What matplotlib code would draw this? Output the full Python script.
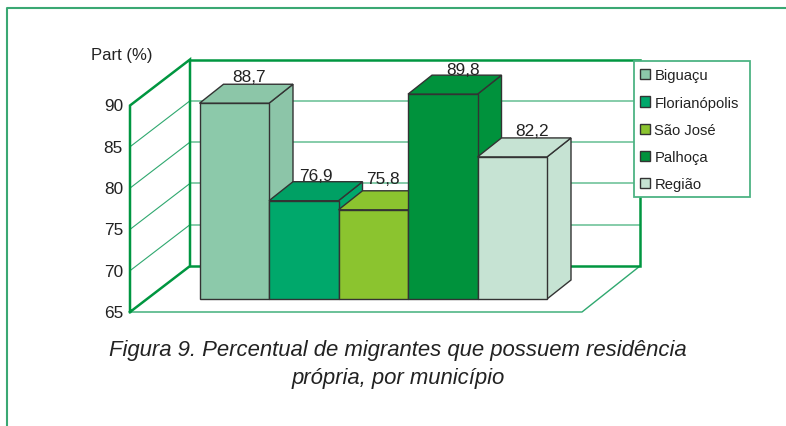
#!/usr/bin/env python3
# -*- coding: utf-8 -*-

import matplotlib
matplotlib.use("Agg")
import matplotlib.pyplot as plt
from matplotlib.patches import Patch, Polygon, Rectangle

municipios = ["Biguaçu", "Florianópolis", "São José", "Palhoça", "Região"]
valores = [88.7, 76.9, 75.8, 89.8, 82.2]
rotulos = ["88,7", "76,9", "75,8", "89,8", "82,2"]
ticks = [65, 70, 75, 80, 85, 90]

cor_frente = ["#8cc9aa", "#00a86b", "#8bc42f", "#00923c", "#c6e3d3"]
cor_topo = ["#8cc6a8", "#00a064", "#8bc42f", "#00923c", "#c6e3d3"]
cor_lado = ["#8cc5a8", "#00a86b", "#8bc42f", "#00923c", "#c6e3d3"]

# label nudges in pixels, the original labels are not centred on the bars
rotulo_dx = [-9, -12, -14, -4, -4]
rotulo_dy = [9, 8, 14, 7, 9]

W, H = 786, 427
PX_X = 69.5  # pixels per bar
PX_Y = 8.26  # pixels per percentage point
X0, Y0 = 199.5, 300  # pixel of first bar, value 65


def px(dx, dy=0):
    # pixel offset (y up) to data units
    return dx / PX_X, dy / PX_Y


fig = plt.figure(figsize=(W / 100, H / 100), dpi=100, facecolor="white")
ax = fig.add_axes([0, 0, 1, 1])
ax.set_xlim(-X0 / PX_X, (W - X0) / PX_X)
ax.set_ylim(65 - (H - Y0) / PX_Y, 65 + Y0 / PX_Y)
ax.axis("off")
plt.rcParams["font.family"] = ["Liberation Sans", "DejaVu Sans"]

VERDE = "#009640"
VERDE_CLARO = "#7cc8a3"
VERDE_FINO = "#2fa86f"
MOLDURA = "#3aa873"

# frame of the page, only top and left are visible
fx = px(7 - X0)[0]
fy = 65 + (Y0 - 9) / PX_Y
ax.plot([fx, fx, ax.get_xlim()[1]], [ax.get_ylim()[0], fy, fy], color=MOLDURA, lw=1.5, zorder=1)

# walls
xf = px(130 - X0)[0]
xb = px(190 - X0)[0]
xfr = px(582 - X0)[0]
xbr = px(640 - X0)[0]
queda = 13 / PX_Y
fundo = 33 / PX_Y


def frente(v):
    return v - queda


def tras(v):
    return v + fundo


for v in ticks[1:-1]:
    ax.plot([xb, xbr], [tras(v), tras(v)], color=VERDE_CLARO, lw=1.3, zorder=2)
    ax.plot([xf, xb], [frente(v), tras(v)], color=VERDE_FINO, lw=0.8, zorder=2)

ax.plot([xf, xfr, xbr], [frente(65), frente(65), tras(65)], color=VERDE_FINO, lw=1.0, zorder=2)
ax.plot([xf, xf, xb, xb, xf], [frente(65), frente(90), tras(90), tras(65), frente(65)],
        color=VERDE, lw=1.8, zorder=3, solid_joinstyle="miter")
ax.plot([xb, xbr, xbr, xb], [tras(90), tras(90), tras(65), tras(65)],
        color=VERDE, lw=1.8, zorder=3, solid_joinstyle="miter")

for v in ticks:
    ax.text(xf - px(7)[0], frente(v) + px(0, 1)[1], str(v), ha="right", va="center_baseline",
            fontsize=12.4, color="#222222")
ax.text(px(122 - X0)[0], 65 + (Y0 - 55) / PX_Y, "Part (%)", ha="center", va="center",
        fontsize=12.0, color="#222222")

# bars
ddx, ddy = px(24, 19)
for i, v in enumerate(valores):
    z = 4 + i
    ec = "#333333"
    frente_xy = [(i, 65), (i + 1, 65), (i + 1, v), (i, v)]
    topo_xy = [(i, v), (i + 1, v), (i + 1 + ddx, v + ddy), (i + ddx, v + ddy)]
    lado_xy = [(i + 1, 65), (i + 1 + ddx, 65 + ddy), (i + 1 + ddx, v + ddy), (i + 1, v)]
    ax.add_patch(Polygon(lado_xy, closed=True, fc=cor_lado[i], ec=ec, lw=1.0, zorder=z))
    ax.add_patch(Polygon(topo_xy, closed=True, fc=cor_topo[i], ec=ec, lw=1.0, zorder=z))
    ax.add_patch(Polygon(frente_xy, closed=True, fc=cor_frente[i], ec=ec, lw=1.0, zorder=z))
    ax.text(i + 0.5 + ddx + px(rotulo_dx[i])[0], v + ddy + px(0, rotulo_dy[i])[1], rotulos[i],
            ha="center", va="center_baseline", fontsize=12.4, color="#222222", zorder=10)

# legend, box drawn apart because it is wider than its contents
ax.add_patch(Rectangle((px(633.5 - X0)[0], 65 + (Y0 - 198) / PX_Y), px(116)[0], px(0, 136)[1],
                       fc="white", ec="#4db384", lw=1.3, zorder=15))
handles = [Patch(fc=c, ec="#333333", lw=1.0, label=m) for c, m in zip(cor_frente, municipios)]
leg = fig.legend(handles=handles, loc="upper left", bbox_to_anchor=(632.5 / W, 1 - 62 / H),
                 fontsize=10.6, frameon=False, borderaxespad=0, borderpad=0.5, labelspacing=0.9,
                 handlelength=0.68, handleheight=0.68, handletextpad=0.3, labelcolor="#222222")
leg.set_zorder(20)

# caption
ax.text(px(398 - X0)[0], 65 + (Y0 - 350.5) / PX_Y, "Figura 9. Percentual de migrantes que possuem residência",
        ha="center", va="center", fontsize=15.9, style="italic", color="#222222")
ax.text(px(398 - X0)[0], 65 + (Y0 - 379) / PX_Y, "própria, por município",
        ha="center", va="center", fontsize=15.9, style="italic", color="#222222")

fig.savefig("out.png", dpi=100, facecolor="white")
